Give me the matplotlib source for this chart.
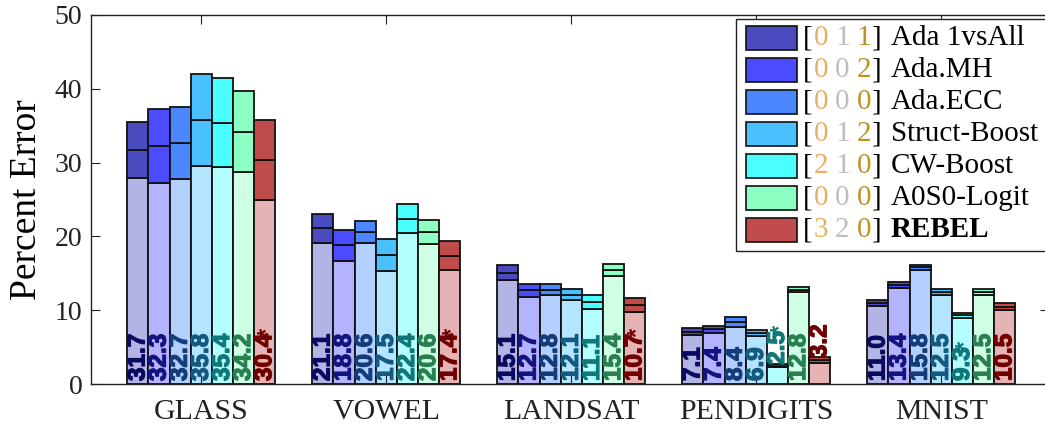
import matplotlib
matplotlib.use("Agg")
import matplotlib.pyplot as plt
import matplotlib.patheffects as pe
from matplotlib.font_manager import FontProperties
import numpy as np

# Data: mean test error and spread (half-height of the dark part) per dataset/method
datasets = ["GLASS", "VOWEL", "LANDSAT", "PENDIGITS", "MNIST"]
methods = ["Ada 1vsAll", "Ada.MH", "Ada.ECC", "Struct-Boost", "CW-Boost", "A0S0-Logit", "REBEL"]
ranks = [[0, 1, 1], [0, 0, 2], [0, 0, 0], [0, 1, 2], [2, 1, 0], [0, 0, 0], [3, 2, 0]]

mean_err = np.array([
    [31.7, 32.3, 32.7, 35.8, 35.4, 34.2, 30.4],
    [21.1, 18.8, 20.6, 17.5, 22.4, 20.6, 17.4],
    [15.1, 12.7, 12.8, 12.1, 11.1, 15.4, 10.7],
    [7.1, 7.4, 8.4, 6.9, 2.5, 12.8, 3.2],
    [11.0, 13.4, 15.8, 12.5, 9.3, 12.5, 10.5],
])
spread = np.array([
    [3.8, 5.0, 4.9, 6.2, 6.0, 5.5, 5.4],
    [2.0, 2.1, 1.5, 2.2, 2.0, 1.6, 2.0],
    [1.0, 0.9, 0.7, 0.75, 1.0, 0.8, 0.9],
    [0.5, 0.5, 0.7, 0.4, 0.2, 0.3, 0.4],
    [0.4, 0.4, 0.35, 0.4, 0.3, 0.4, 0.5],
])
starred = [(0, 6), (1, 6), (2, 6), (3, 4), (4, 4)]

dark_cols = ["#4B4BC0", "#4B4BFF", "#4B87FF", "#4BC0FF", "#4BFFFF", "#8CFFC3", "#C04B4B"]
light_cols = ["#B3B3E5", "#B3B3FF", "#B3CFFF", "#B3E5FF", "#B3FFFF", "#CFFFE5", "#E5B3B3"]
text_cols = ["#0A0A60", "#141480", "#143C78", "#145A80", "#0F7878", "#288050", "#700000"]
rank_cols = ["#E8B060", "#BEBEBE", "#C09020"]

serif = "Liberation Serif"
lab_font = FontProperties(family="Liberation Sans", weight="bold", size=17.5)
star_font = FontProperties(family="Liberation Sans", weight="bold", size=17)

fig = plt.figure(figsize=(10.45, 4.25), dpi=100)
ax = fig.add_axes([90.7 / 1045, 41 / 425, (1049 - 90.7) / 1045, 369 / 425])

n_m = len(methods)
width = 0.8 / n_m
x = np.arange(len(datasets))
for j in range(n_m):
    xs = x - 0.4 + width * (j + 0.5)
    m = mean_err[:, j]
    s = spread[:, j]
    kw = dict(width=width, edgecolor="#111111", linewidth=1.3)
    ax.bar(xs, m - s, color=light_cols[j], **kw)
    ax.bar(xs, s, bottom=m - s, color=dark_cols[j], **kw)
    ax.bar(xs, s, bottom=m, color=dark_cols[j], **kw)
    for i in range(len(datasets)):
        top = m[i] + s[i]
        y_lab = 0.4 if top > 5 else top - 0.1   # short bars: label sits on top
        t = ax.text(xs[i], y_lab, f"{m[i]:.1f}", rotation=90, ha="center", va="bottom",
                    fontproperties=lab_font, color=text_cols[j], zorder=4,
                    path_effects=[pe.withStroke(linewidth=0.9, foreground=text_cols[j])])
        if (i, j) in starred:
            ax.annotate("*", xy=(0.5, 1), xycoords=t, xytext=(2, -2), textcoords="offset points",
                        rotation=90, ha="center", va="bottom", fontproperties=star_font,
                        color=text_cols[j], zorder=4)

ax.set_xlim(-0.598, 4.582)
ax.set_ylim(0, 50)
ax.set_xticks(x)
ax.set_xticklabels(datasets, family=serif, fontsize=21.5)
ax.set_yticks([0, 10, 20, 30, 40, 50])
ax.set_yticklabels(["0", "10", "20", "30", "40", "50"], family=serif, fontsize=20)
ax.tick_params(direction="in", length=6.5, width=0.8, top=True, right=True, pad=6, colors="#222222")
ax.tick_params(axis="x", pad=11)
ax.set_ylabel("Percent Error", family=serif, fontsize=27, labelpad=8)
for sp in ax.spines.values():
    sp.set_linewidth(1.0)
    sp.set_color("#222222")

# hand-built legend (coloured rank digits)
def px(xp, yp):
    # figure pixel (from top-left) -> axes fraction
    return ((xp - 90.7) / (1049 - 90.7), (384 - yp) / 369)

x0, y0 = px(736, 19)
x1, y1 = px(1049, 251)
ax.add_patch(plt.Rectangle((x0, y1), x1 - x0, y0 - y1, transform=ax.transAxes,
                           facecolor="white", edgecolor="#222222", linewidth=1.0, zorder=5))
for k in range(n_m):
    yc = 38.3 + 32 * k
    px0, py0 = px(746, yc + 12)
    px1, py1 = px(797, yc - 12)
    ax.add_patch(plt.Rectangle((px0, py0), px1 - px0, py1 - py0, transform=ax.transAxes,
                               facecolor=dark_cols[k], edgecolor="#111111", linewidth=1.2, zorder=6))
    tx, ty = px(803, yc)
    t = ax.text(tx, ty, "[", transform=ax.transAxes, family=serif, fontsize=21,
                va="center", ha="left", zorder=7)
    pieces = [(str(ranks[k][0]), rank_cols[0]), (str(ranks[k][1]), rank_cols[1]),
              (str(ranks[k][2]), rank_cols[2]), ("]", "black")]
    for n_, (s_, c_) in enumerate(pieces):
        gap = 1 if n_ in (0, 3) else 7
        t = ax.annotate(s_, xy=(1, 0), xycoords=t, xytext=(gap, 0), textcoords="offset pixels",
                        va="bottom", ha="left", family=serif, fontsize=21, color=c_, zorder=7)
    ax.annotate(methods[k], xy=(1, 0), xycoords=t, xytext=(9, 0), textcoords="offset pixels",
                va="bottom", ha="left", family=serif, fontsize=21, color="black", zorder=7,
                fontweight="bold" if methods[k] == "REBEL" else "normal")

fig.savefig("out.png", dpi=100)
